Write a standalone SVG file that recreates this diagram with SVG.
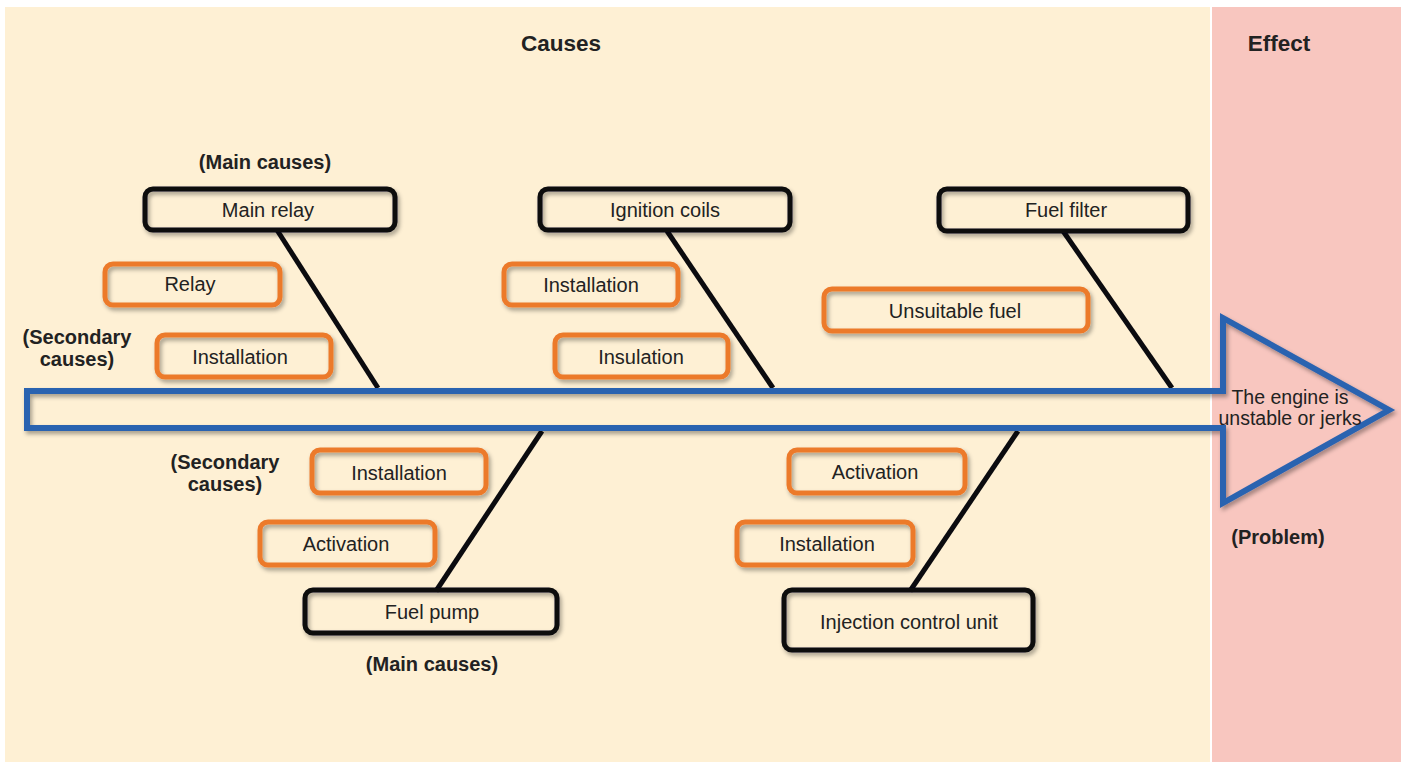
<svg xmlns="http://www.w3.org/2000/svg" width="1403" height="762" viewBox="0 0 1403 762">
<defs>
<filter id="sh" x="-10%" y="-20%" width="130%" height="150%">
<feDropShadow dx="2" dy="3" stdDeviation="2" flood-color="#000" flood-opacity="0.35"/>
</filter>
</defs>
<style>
.main{fill:none;stroke:#0b0b0f;stroke-width:5;filter:url(#sh)}
.sec{fill:none;stroke:#ec7a2c;stroke-width:5;filter:url(#sh)}
.t{font-family:"Liberation Sans",Arial,sans-serif;font-size:20px;fill:#222;text-anchor:middle;dominant-baseline:central}
.e{font-family:"Liberation Sans",Arial,sans-serif;font-size:19.5px;fill:#222;text-anchor:middle;dominant-baseline:central}
.b{font-family:"Liberation Sans",Arial,sans-serif;font-size:20px;font-weight:bold;fill:#222;text-anchor:middle;dominant-baseline:central}
.h{font-family:"Liberation Sans",Arial,sans-serif;font-size:22.5px;font-weight:bold;fill:#222;text-anchor:middle;dominant-baseline:central}
.bone{stroke:#0b0b0f;stroke-width:5;fill:none}
</style>
<rect x="0" y="0" width="1403" height="762" fill="#ffffff"/>
<rect x="5" y="7" width="1205" height="755" fill="#fef0d4"/>
<rect x="1212" y="7" width="189" height="755" fill="#f8c6bf"/>

<text class="h" x="561" y="43">Causes</text>
<text class="h" x="1279" y="43">Effect</text>
<text class="b" x="265" y="162">(Main causes)</text>
<text class="b" x="77" y="337">(Secondary</text>
<text class="b" x="77" y="359">causes)</text>
<text class="b" x="225" y="462">(Secondary</text>
<text class="b" x="225" y="484">causes)</text>
<text class="b" x="432" y="664">(Main causes)</text>
<text class="b" x="1278" y="537">(Problem)</text>

<g id="connectors">
<line class="bone" x1="277" y1="230" x2="378" y2="388"/>
<line class="bone" x1="667" y1="231" x2="773" y2="388"/>
<line class="bone" x1="1063" y1="231" x2="1172" y2="388"/>
<line class="bone" x1="436" y1="591" x2="542" y2="431"/>
<line class="bone" x1="910" y1="591" x2="1018" y2="431"/>
</g>

<g id="spine">
<polygon points="27,391 1223,391 1223,318 1389,410 1223,503 1223,428 27,428" fill="none" stroke="#2c63b0" stroke-width="6" stroke-linejoin="miter" filter="url(#sh)"/>
<text class="e" x="1290" y="397">The engine is</text>
<text class="e" x="1290" y="418">unstable or jerks</text>
</g>

<g id="main-relay"><rect class="main" x="145" y="189" width="250" height="41" rx="8"/><text class="t" x="268" y="210">Main relay</text></g>
<g id="ignition-coils"><rect class="main" x="540" y="189" width="250" height="41" rx="8"/><text class="t" x="665" y="210">Ignition coils</text></g>
<g id="fuel-filter"><rect class="main" x="939" y="189" width="249" height="42" rx="8"/><text class="t" x="1066" y="210">Fuel filter</text></g>
<g id="fuel-pump"><rect class="main" x="305" y="590" width="252" height="43" rx="8"/><text class="t" x="432" y="612">Fuel pump</text></g>
<g id="injection-control-unit"><rect class="main" x="784" y="590" width="249" height="60" rx="8"/><text class="t" x="909" y="622">Injection control unit</text></g>

<g id="relay"><rect class="sec" x="105" y="264" width="175" height="41" rx="8"/><text class="t" x="190" y="284">Relay</text></g>
<g id="installation-1"><rect class="sec" x="157" y="335" width="174" height="42" rx="8"/><text class="t" x="240" y="357">Installation</text></g>
<g id="installation-2"><rect class="sec" x="504" y="264" width="174" height="41" rx="8"/><text class="t" x="591" y="285">Installation</text></g>
<g id="insulation"><rect class="sec" x="555" y="335" width="173" height="42" rx="8"/><text class="t" x="641" y="357">Insulation</text></g>
<g id="unsuitable-fuel"><rect class="sec" x="824" y="289" width="264" height="42" rx="8"/><text class="t" x="955" y="311">Unsuitable fuel</text></g>
<g id="installation-3"><rect class="sec" x="312" y="450" width="174" height="43" rx="8"/><text class="t" x="399" y="473">Installation</text></g>
<g id="activation-1"><rect class="sec" x="260" y="522" width="175" height="43" rx="8"/><text class="t" x="346" y="544">Activation</text></g>
<g id="activation-2"><rect class="sec" x="789" y="450" width="176" height="43" rx="8"/><text class="t" x="875" y="472">Activation</text></g>
<g id="installation-4"><rect class="sec" x="737" y="522" width="176" height="43" rx="8"/><text class="t" x="827" y="544">Installation</text></g>
</svg>
